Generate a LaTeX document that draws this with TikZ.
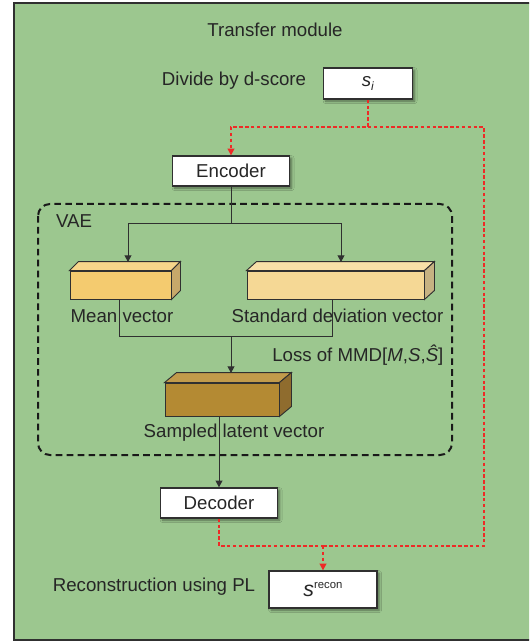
\documentclass[tikz,border=0pt]{standalone}
\usepackage{fontspec}
\setmainfont{Liberation Sans}
\usetikzlibrary{arrows.meta,shadows.blur,calc}

\definecolor{panelgreen}{HTML}{9CC78F}
\definecolor{ink}{HTML}{262626}
\definecolor{edge}{HTML}{303030}
\definecolor{flowred}{HTML}{EE2A26}
\definecolor{meanfront}{HTML}{F4CB6F}
\definecolor{meantop}{HTML}{F7D68A}
\definecolor{meanside}{HTML}{C7A86A}
\definecolor{sdfront}{HTML}{F5D895}
\definecolor{sdtop}{HTML}{F8E1A8}
\definecolor{sdside}{HTML}{C6B282}
\definecolor{sampfront}{HTML}{B48A33}
\definecolor{samptop}{HTML}{C29B4B}
\definecolor{sampside}{HTML}{8F6C2E}

\tikzset{
  txt/.style={text=ink, font=\fontsize{14}{16}\selectfont, inner sep=0pt},
  whitebox/.style={draw=edge, line width=1.1pt, fill=white, text=ink,
    font=\fontsize{14}{16}\selectfont, inner sep=0pt,
    blur shadow={shadow xshift=1.6pt, shadow yshift=-1.6pt,
      shadow blur radius=1.8pt, shadow opacity=45}},
  face/.style={draw=edge, line width=0.7pt, inner sep=0pt},
  link/.style={draw=edge, line width=0.75pt},
  arr/.style={link, -{Triangle[width=5.2pt,length=5pt]}},
  rdash/.style={draw=flowred, line width=0.8pt, dash pattern=on 2.6pt off 1.8pt},
  rarr/.style={rdash, -{Triangle[width=5.2pt,length=5pt,fill=flowred]}},
}

% front face node plus top and side faces of a block
\newcommand{\blockfaces}[5]{% name, dx, dy, top colour, side colour
  \filldraw[face, fill=#4] (#1.north west) -- ++(#2,-#3) -- ($(#1.north east)+(#2,-#3)$) -- (#1.north east) -- cycle;
  \filldraw[face, fill=#5] (#1.north east) -- ++(#2,-#3) -- ($(#1.south east)+(#2,-#3)$) -- (#1.south east) -- cycle;
}

\begin{document}
\begin{tikzpicture}[x=0.75pt, y=-0.75pt]
  \useasboundingbox (0,0) rectangle (529,641);
  % outer panel, running off the right edge
  \begin{scope}
    \clip (0,0) rectangle (529,641);
    \filldraw[fill=panelgreen, draw=edge, line width=1.1pt] (14,3) rectangle (540,640);
  \end{scope}

  % titles
  \node[txt] (title) at (275,30) {Transfer module};
  \node[txt] (dividelbl) at (234,81) {Divide by d-score};
  \node[txt] (reconlbl) at (154,587) {Reconstruction using PL};

  % input / output boxes
  \node[whitebox, minimum width=89*0.75pt, minimum height=31*0.75pt] (si) at (368,83.5)
    {\textit{s}\raisebox{-0.45ex}{\fontsize{9}{9}\selectfont\textit{i}}};
  \node[whitebox, minimum width=117*0.75pt, minimum height=30*0.75pt] (enc) at (231,171) {Encoder};
  \node[whitebox, minimum width=117*0.75pt, minimum height=30*0.75pt] (dec) at (219,503) {Decoder};
  \node[whitebox, minimum width=108*0.75pt, minimum height=37*0.75pt] (srec) at (323,589.5)
    {\fontsize{16}{16}\selectfont\textit{s}\raisebox{0.75ex}{\fontsize{8.5}{9}\selectfont recon}};

  % VAE group
  \draw[draw=black!90, line width=1.5pt, dash pattern=on 5pt off 3.2pt, rounded corners=9pt]
    (38,204) rectangle (452,455);
  \node[txt] (vaelbl) at (74,221) {VAE};

  % vector blocks
  \node[face, fill=meanfront, minimum width=101*0.75pt, minimum height=28*0.75pt] (mean) at (120.5,285) {};
  \blockfaces{mean}{9}{9}{meantop}{meanside}
  \node[face, fill=sdfront, minimum width=177*0.75pt, minimum height=28*0.75pt] (sd) at (335.5,285) {};
  \blockfaces{sd}{10}{9}{sdtop}{sdside}
  \node[face, fill=sampfront, minimum width=114*0.75pt, minimum height=33*0.75pt] (samp) at (222,399.5) {};
  \blockfaces{samp}{12}{10}{samptop}{sampside}

  \node[txt] (meanlbl) at (122,316) {Mean vector};
  \node[txt] (sdlbl) at (337.5,316) {Standard deviation vector};
  \node[txt, anchor=west] (losslbl) at (272,355) {Loss of MMD[\textit{M},\textit{S},\textit{Ŝ}]};
  \node[txt] (samplbl) at (234,433) {Sampled latent vector};

  % encoder to the two vectors
  \coordinate (split) at (231,224);
  \coordinate (meanin) at (128,262);
  \coordinate (sdin) at (341,262);
  \draw[link] (enc.south) -- (split);
  \draw[arr] (split) -| (meanin);
  \draw[arr] (split) -| (sdin);

  % vectors merged into the sampled vector
  \coordinate (meanout) at (119,299);
  \coordinate (sdout) at (332,299);
  \coordinate (merge) at (231,336);
  \coordinate (sampin) at (231,373);
  \draw[link] (meanout) |- (merge);
  \draw[link] (sdout) |- (merge);
  \draw[arr] (merge) -- (sampin);

  % sampled vector to decoder
  \draw[arr] (samp.south -| dec.north) -- (dec.north);

  % red dashed data flow
  \coordinate (tsplit) at (368,127);
  \coordinate (rtop) at (484,127);
  \coordinate (rbot) at (484,546);
  \coordinate (bjoin) at (323,546);
  \draw[rarr] (si.south) -- (tsplit) -| (enc.north);
  \draw[rdash] (tsplit) -- (rtop) -- (rbot) -- (bjoin);
  \draw[rdash] (dec.south) |- (bjoin);
  \draw[rarr] (bjoin) -- (srec.north);
\end{tikzpicture}
\end{document}
